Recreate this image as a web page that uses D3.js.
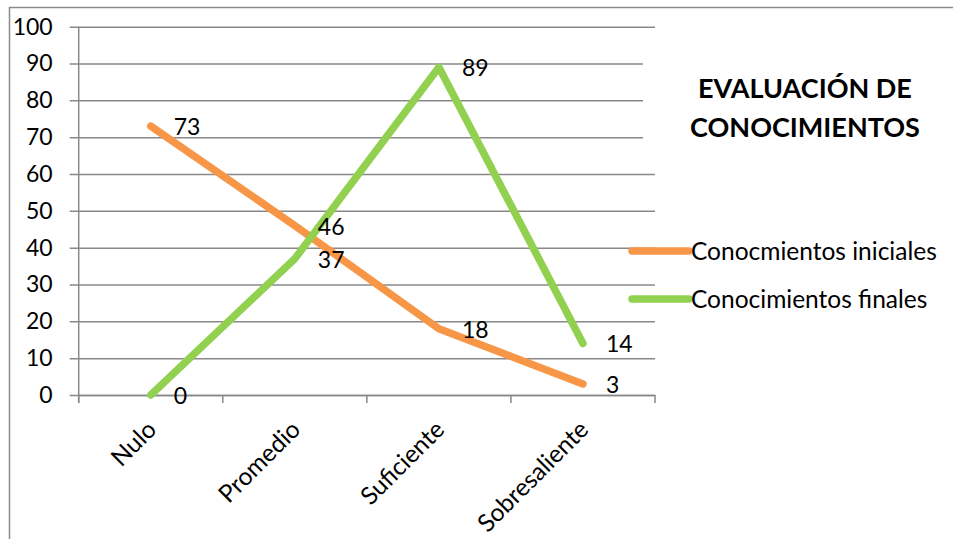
<!DOCTYPE html>
<html lang="es">
<head>
<meta charset="UTF-8">
<title>Evaluación de conocimientos</title>
<script src="https://d3js.org/d3.v7.min.js"></script>
<style>
  body { margin: 0; background: #fff; }
  text { font-family: Lato, "Open Sans", sans-serif; fill: #000; }
</style>
</head>
<body>
<div id="chart"></div>
<script>
var categories = ['Nulo', 'Promedio', 'Suficiente', 'Sobresaliente'];
var seriesNames = ['Conocmientos iniciales', 'Conocimientos finales'];
var iniciales = [73, 46, 18, 3];
var finales = [0, 37, 89, 14];
var yTicks = [0, 10, 20, 30, 40, 50, 60, 70, 80, 90, 100];
var colors = ['#F79646', '#92D050'];

var width = 953, height = 539;
var plot = { left: 78.7, right: 655, top: 26.7, bottom: 395 };

var svg = d3.select('#chart').append('svg')
  .attr('width', width)
  .attr('height', height);

// outer border
svg.append('rect')
  .attr('x', 9.5).attr('y', 7.5)
  .attr('width', width).attr('height', height)
  .attr('fill', '#fff')
  .attr('stroke', '#8c8c8c')
  .attr('stroke-width', 1.5);

var x = d3.scaleBand().domain(categories).range([plot.left, plot.right]);
var y = d3.scaleLinear().domain([0, 100]).range([plot.bottom, plot.top]);

// gridlines + y axis
svg.append('g')
  .attr('transform', 'translate(' + plot.left + ',0)')
  .call(d3.axisLeft(y).tickValues(yTicks).tickSize(-(plot.right - plot.left)).tickPadding(26))
  .call(function(g) {
    g.select('.domain').remove();
    g.selectAll('.tick line').attr('stroke', '#888').attr('stroke-width', 1.5).attr('x2', plot.right - plot.left).attr('x1', -9);
    g.selectAll('.tick text').attr('font-size', 23).attr('font-family', 'Lato, sans-serif').attr('fill', '#000');
  });

// white area behind title (covers part of gridlines)
svg.append('rect')
  .attr('x', 643).attr('y', 45)
  .attr('width', 300).attr('height', 105)
  .attr('fill', '#fff');

// vertical axis line
svg.append('line')
  .attr('x1', plot.left).attr('x2', plot.left)
  .attr('y1', plot.top).attr('y2', plot.bottom + 8)
  .attr('stroke', '#888').attr('stroke-width', 1.5);

// x axis
svg.append('g')
  .attr('transform', 'translate(0,' + plot.bottom + ')')
  .call(d3.axisBottom(x).tickSize(0).tickFormat(''))
  .call(function(g) {
    g.select('.domain').attr('stroke', '#888').attr('stroke-width', 1.5);
  });

// tick marks at category boundaries
var bounds = categories.map(function(c) { return x(c); }).concat([plot.right]);
svg.append('g').selectAll('line')
  .data(bounds)
  .enter().append('line')
  .attr('x1', function(d) { return d; })
  .attr('x2', function(d) { return d; })
  .attr('y1', plot.bottom)
  .attr('y2', plot.bottom + 8)
  .attr('stroke', '#888').attr('stroke-width', 1.5);

// rotated category labels
svg.append('g').selectAll('text')
  .data(categories)
  .enter().append('text')
  .attr('transform', function(d) {
    var cx = x(d) + x.bandwidth() / 2;
    return 'translate(' + (cx + 1) + ',' + (plot.bottom + 30) + ') rotate(-45)';
  })
  .attr('text-anchor', 'end')
  .attr('dy', '0.35em')
  .attr('font-size', 24.5)
  .text(function(d) { return d; });

var series = [iniciales, finales];
var line = d3.line()
  .x(function(d, i) { return x(categories[i]) + x.bandwidth() / 2; })
  .y(function(d) { return y(d); });

series.forEach(function(vals, s) {
  svg.append('path')
    .datum(vals)
    .attr('d', line)
    .attr('fill', 'none')
    .attr('stroke', colors[s])
    .attr('stroke-width', 7.5)
    .attr('stroke-linecap', 'round')
    .attr('stroke-linejoin', 'round');
});

// data labels
series.forEach(function(vals, s) {
  svg.append('g').selectAll('text')
    .data(vals)
    .enter().append('text')
    .attr('x', function(d, i) { return x(categories[i]) + x.bandwidth() / 2 + 23; })
    .attr('y', function(d) { return y(d) + 1; })
    .attr('dy', '0.35em')
    .attr('font-size', 23)
    .text(function(d) { return d; });
});

// title
var title = svg.append('text')
  .attr('x', 805)
  .attr('text-anchor', 'middle')
  .attr('font-size', 27)
  .attr('font-weight', 'bold');
title.append('tspan').attr('x', 805).attr('y', 98).text('EVALUACIÓN DE');
title.append('tspan').attr('x', 805).attr('y', 137).text('CONOCIMIENTOS');

// legend
var legend = svg.append('g').selectAll('g')
  .data(seriesNames)
  .enter().append('g')
  .attr('transform', function(d, i) { return 'translate(632,' + (251 + i * 48) + ')'; });

legend.append('line')
  .attr('x1', 0).attr('x2', 57)
  .attr('stroke', function(d, i) { return colors[i]; })
  .attr('stroke-width', 7.5)
  .attr('stroke-linecap', 'round');

legend.append('text')
  .attr('x', 59)
  .attr('dy', '0.35em')
  .attr('font-size', 24.5)
  .text(function(d) { return d; });
</script>
</body>
</html>
